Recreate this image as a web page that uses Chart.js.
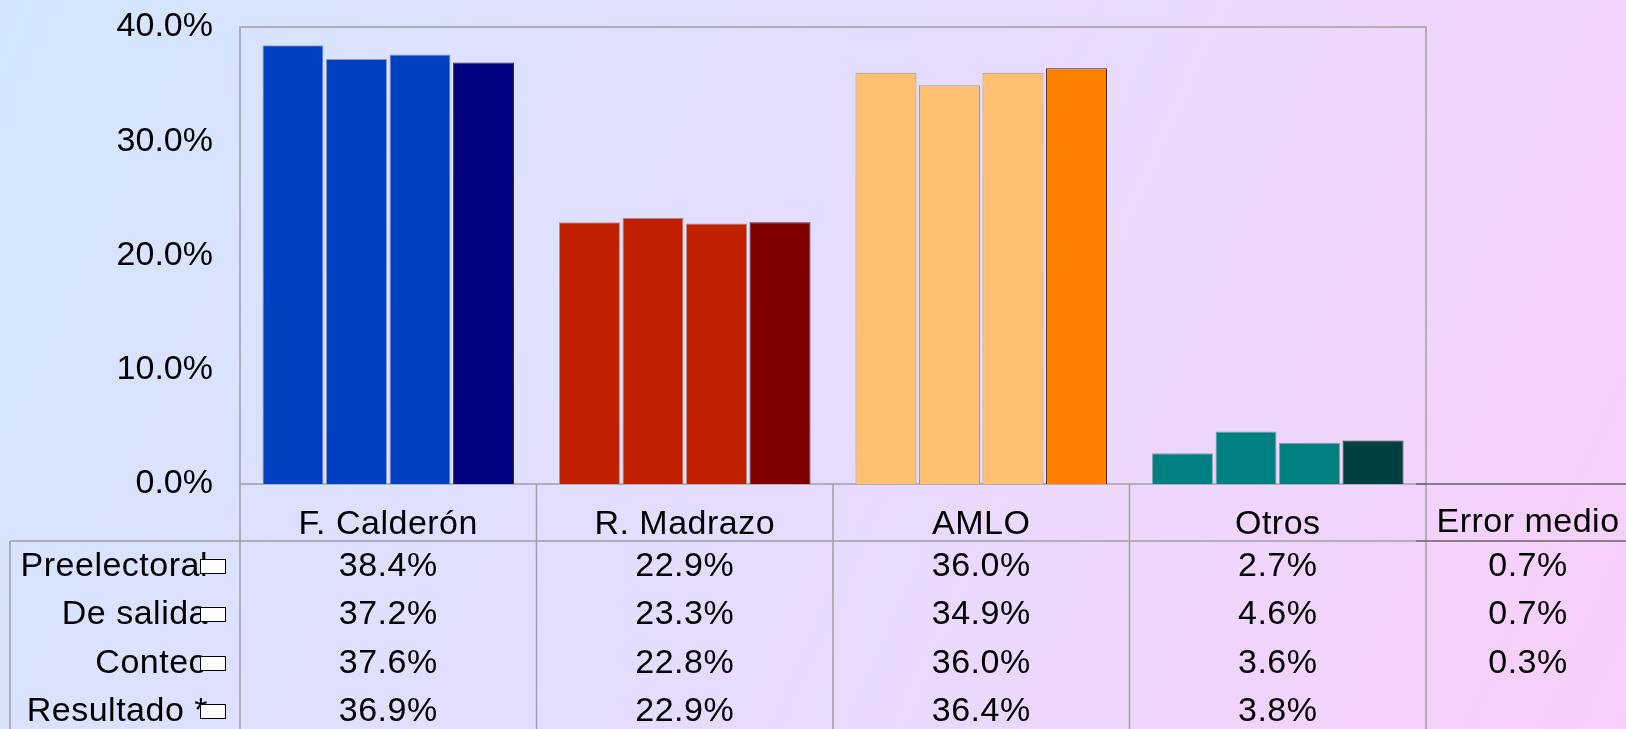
<!DOCTYPE html>
<html>
<head>
<meta charset="utf-8">
<script src="https://cdn.jsdelivr.net/npm/chart.js@4"></script>
<style>
  html, body { margin: 0; padding: 0; }
  #wrap { width: 1626px; height: 729px; }
</style>
</head>
<body>
<div id="wrap"><canvas id="myChart"></canvas></div>
<script>
const categories = ['F. Calderón', 'R. Madrazo', 'AMLO', 'Otros']
const seriesNames = ['Preelectoral', 'De salida', 'Conteo', 'Resultado *']
const preelectoral = [38.4, 22.9, 36.0, 2.7]
const deSalida = [37.2, 23.3, 34.9, 4.6]
const conteo = [37.6, 22.8, 36.0, 3.6]
const resultado = [36.9, 22.9, 36.4, 3.8]
const errorMedio = [0.7, 0.7, 0.3, null]
const errorLabel = 'Error medio'

// colours per candidate: polls / final result
const lightColors = ['#0040C0', '#C02000', '#FFC070', '#008080']
const darkColors = ['#000080', '#800000', '#FF8000', '#004040']

const FONT = '34px "Liberation Sans", Arial, sans-serif'
const pct = v => v.toFixed(1) + '%'

const seriesValues = [preelectoral, deSalida, conteo, resultado]

const datasets = seriesValues.map((vals, i) => ({
  label: seriesNames[i],
  data: vals,
  backgroundColor: i === 3 ? darkColors : lightColors,
  borderColor: i === 3 ? '#303030' : '#9a9a9a',
  borderWidth: 1,
  barPercentage: 0.96,
  categoryPercentage: 0.857
}))

const background = {
  id: 'background',
  beforeDraw(chart) {
    const c = chart.ctx
    const g = c.createLinearGradient(0, 0, chart.width, chart.height)
    g.addColorStop(0, '#D2E7FF')
    g.addColorStop(0.5, '#E6DCFF')
    g.addColorStop(1, '#F8CFF9')
    c.save()
    c.fillStyle = g
    c.fillRect(0, 0, chart.width, chart.height)
    c.restore()
  }
}

const table = {
  id: 'table',
  beforeDatasetsDraw(chart) {
    const a = chart.chartArea
    const c = chart.ctx
    c.save()
    c.strokeStyle = '#A0A0A0'
    c.lineWidth = 1.5
    c.strokeRect(a.left, a.top, a.right - a.left, a.bottom - a.top)
    c.restore()
  },
  afterDraw(chart) {
    const a = chart.chartArea
    const x = chart.scales.x
    const c = chart.ctx
    const H = chart.height, W = chart.width
    const headY = 525
    const headBottom = 541
    const rowY = [567, 615, 664, 712]
    const errX = 1528
    const colW = (a.right - a.left) / categories.length

    c.save()
    c.strokeStyle = '#A0A0A0'
    c.lineWidth = 1.5
    c.beginPath()
    // header bottom line
    c.moveTo(10, headBottom); c.lineTo(a.right - 10, headBottom)
    // column dividers
    for (let i = 0; i <= categories.length; i++) {
      const xx = a.left + i * colW
      c.moveTo(xx, a.bottom); c.lineTo(xx, H)
    }
    // row label column
    c.moveTo(10, headBottom); c.lineTo(10, H)
    c.stroke()

    c.strokeStyle = '#6A606A'
    c.beginPath()
    c.moveTo(a.right - 10, a.bottom); c.lineTo(W, a.bottom)
    c.moveTo(a.right - 10, headBottom); c.lineTo(W, headBottom)
    c.stroke()

    c.fillStyle = '#000'
    c.font = FONT
    c.letterSpacing = '0.5px'
    c.textBaseline = 'middle'
    c.textAlign = 'center'
    categories.forEach((cat, i) => {
      const cx = x.getPixelForValue(i)
      c.fillText(cat, cx, headY)
      seriesValues.forEach((vals, r) => c.fillText(pct(vals[i]), cx, rowY[r]))
    })
    c.fillText(errorLabel, errX, headY - 2)
    errorMedio.forEach((v, r) => { if (v !== null) c.fillText(pct(v), errX, rowY[r]) })

    // row labels with empty legend keys
    c.textAlign = 'right'
    seriesNames.forEach((name, r) => {
      c.fillStyle = '#000'
      c.fillText(name, 208, rowY[r])
      c.fillStyle = '#fff'
      c.fillRect(200, rowY[r] - 8, 26, 15)
      c.strokeStyle = '#000'
      c.lineWidth = 1
      c.strokeRect(200.5, rowY[r] - 7.5, 25, 14)
    })
    c.restore()
  }
}

const ctx = document.getElementById('myChart').getContext('2d')

const myChart = new Chart(ctx, {
  type: 'bar',
  data: { labels: categories, datasets: datasets },
  options: {
    responsive: true,
    maintainAspectRatio: false,
    animation: false,
    layout: { padding: { top: 27, right: 200, bottom: 245, left: 0 } },
    plugins: {
      legend: { display: false },
      tooltip: { enabled: false }
    },
    scales: {
      x: { display: false },
      y: {
        min: 0,
        max: 40,
        grid: { display: false, drawTicks: false },
        border: { display: false },
        ticks: {
          stepSize: 10,
          padding: 27,
          color: '#000',
          font: { family: '"Liberation Sans", Arial, sans-serif', size: 34 },
          callback: v => pct(v)
        },
        afterFit: s => {
          s.width = 240
          s.paddingTop = 0
          s.paddingBottom = 0
        }
      }
    }
  },
  plugins: [background, table]
})
</script>
</body>
</html>
